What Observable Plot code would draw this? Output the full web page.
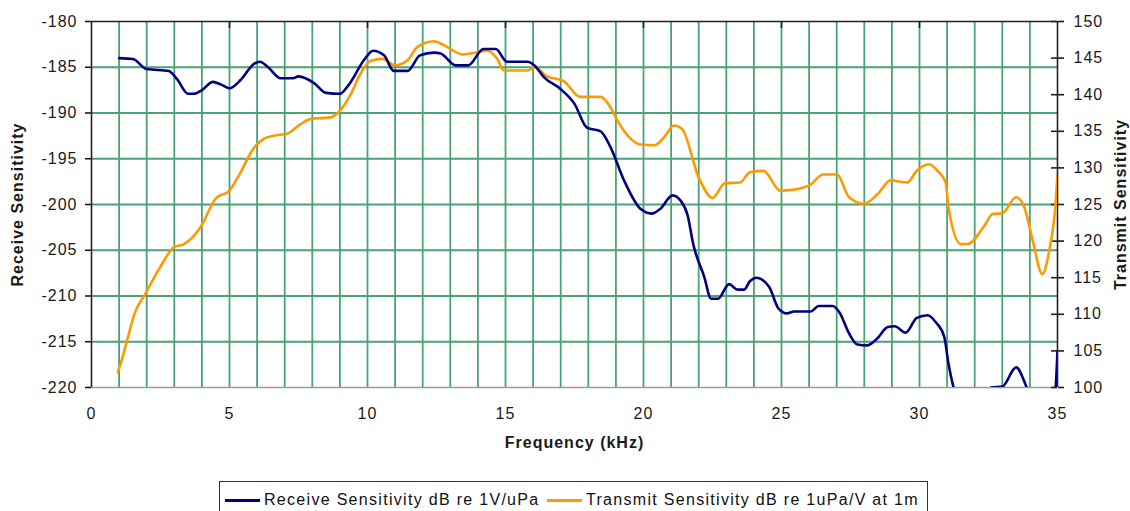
<!DOCTYPE html>
<html><head><meta charset="utf-8">
<script src="https://cdn.jsdelivr.net/npm/d3@7"></script>
<script src="https://cdn.jsdelivr.net/npm/@observablehq/plot@0.6"></script>
<style>
body{margin:0;background:#fff;}
#wrap{position:relative;width:1130px;height:511px;overflow:hidden;font-family:"Liberation Sans",Arial,sans-serif;}
#legend{position:absolute;left:219px;top:481px;width:709px;height:44px;border:1.5px solid #333;box-sizing:border-box;font-size:16px;letter-spacing:1.3px;color:#111;background:#fff;}
.item{position:absolute;top:8px;display:flex;align-items:center;white-space:nowrap;line-height:20px;}
.swatch{display:inline-block;width:35px;height:3px;margin-right:4px;}
</style></head><body>
<div id="wrap"><div id="chart"></div>
<div id="legend">
  <div class="item" style="left:5px"><span class="swatch" style="background:#000080"></span>Receive Sensitivity dB re 1V/uPa</div>
  <div class="item" style="left:327px"><span class="swatch" style="background:#FF9900"></span>Transmit Sensitivity dB re 1uPa/V at 1m</div>
</div></div>
<script>
// Receive sensitivity (left axis, dB re 1V/uPa)
const recvFreq = [1.0,1.5,2.0,2.8,3.1,3.5,3.7,4.0,4.4,4.7,5.0,5.4,5.9,6.1,6.4,6.85,7.3,7.5,8.05,8.5,9.0,9.3,9.9,10.2,10.6,10.95,11.45,11.9,12.4,12.65,13.2,13.65,14.2,14.65,15.05,15.8,16.05,16.4,17.0,17.5,17.95,18.45,18.8,19.3,19.9,20.3,20.6,21.05,21.35,21.6,21.8,22.2,22.45,22.7,23.1,23.4,23.65,23.85,24.1,24.55,24.9,25.2,25.45,26.05,26.35,26.85,27.1,27.45,27.75,28.1,28.45,28.85,29.1,29.5,29.9,30.3,30.6,30.9,31.05,31.25,31.6,32.3,32.6,33.0,33.5,33.9,34.3,34.9,35.0];
const recvDb = [-184.0,-184.1,-185.2,-185.4,-186.3,-187.9,-187.9,-187.5,-186.6,-186.9,-187.3,-186.4,-184.6,-184.4,-185.0,-186.2,-186.2,-186.0,-186.7,-187.8,-187.9,-187.0,-184.1,-183.2,-183.7,-185.4,-185.4,-183.7,-183.4,-183.5,-184.8,-184.8,-183.0,-183.0,-184.4,-184.4,-184.8,-186.1,-187.4,-189.0,-191.6,-192.0,-193.7,-197.4,-200.5,-201.0,-200.5,-199.0,-199.6,-201.2,-204.3,-207.9,-210.3,-210.3,-208.7,-209.3,-209.3,-208.4,-208.0,-209.0,-211.4,-211.9,-211.7,-211.7,-211.1,-211.1,-211.8,-214.1,-215.3,-215.4,-214.7,-213.4,-213.3,-214.0,-212.4,-212.1,-212.9,-214.5,-217.4,-220.2,-223.0,-222.0,-220.0,-219.9,-217.8,-220.1,-223.0,-221.0,-216.0];
// Transmit sensitivity (right axis, dB re 1uPa/V at 1m)
const txFreq = [0.95,1.05,1.35,1.55,1.95,2.45,3.0,3.35,3.95,4.5,5.0,5.3,5.9,6.25,6.6,7.1,7.55,7.95,8.65,8.95,9.4,9.75,10.1,10.55,11.0,11.45,11.8,12.4,12.8,13.45,13.85,14.35,14.7,14.95,15.8,16.05,16.5,17.1,17.7,18.45,18.8,19.05,19.9,20.4,20.75,21.1,21.4,22.0,22.5,22.95,23.5,23.85,24.35,24.95,25.4,26.05,26.5,27.0,27.45,28.0,28.5,28.95,29.55,29.9,30.35,30.65,30.95,31.05,31.5,31.75,32.35,32.65,33.0,33.5,33.8,34.1,34.45,34.7,34.93,35.0];
const txDb = [102.1,103.2,107.3,110.0,112.8,116.2,119.2,119.6,121.9,125.8,126.9,128.7,132.8,134.0,134.4,134.7,135.9,136.7,136.9,137.6,140.1,142.9,144.6,144.9,144.0,144.7,146.5,147.3,146.7,145.5,145.7,146.0,144.9,143.3,143.3,143.8,142.5,141.9,139.7,139.7,138.3,136.5,133.2,133.1,134.2,135.8,135.3,128.7,125.9,127.9,128.0,129.4,129.6,126.9,127.0,127.7,129.1,129.1,126.0,125.1,126.5,128.3,128.0,129.6,130.5,129.6,128.0,124.6,119.6,119.6,122.1,123.7,123.8,126.0,124.6,120.1,115.5,118.7,125.1,129.0];

const xTicks = [0,5,10,15,20,25,30,35];
const leftTicks = [-220,-215,-210,-205,-200,-195,-190,-185,-180];
const rightTicks = [100,105,110,115,120,125,130,135,140,145,150];
const gridX = d3.range(1,35);
const gridY = [-215,-210,-205,-200,-195,-190,-185];
const topTicks = [5,10,15,20,25,30];

// right-axis mapping onto left scale
const leftDomain = [-220,-180], rightDomain = [100,150];
const toLeft = v => leftDomain[0] + (v - rightDomain[0]) * (leftDomain[1]-leftDomain[0])/(rightDomain[1]-rightDomain[0]);
const fromLeft = v => rightDomain[0] + (v - leftDomain[0]) * (rightDomain[1]-rightDomain[0])/(leftDomain[1]-leftDomain[0]);

const receive = recvFreq.map((f,i)=>({f, db: recvDb[i]}));
const transmit = txFreq.map((f,i)=>({f, db: toLeft(txDb[i])}));

const W=1130, H=478, mL=91, mR=73, mT=21, mB=91;
const frameW = W-mL-mR, frameH = H-mT-mB;
const grid = "#46a572";

const chart = Plot.plot({
  width: W, height: H,
  marginLeft: mL, marginRight: mR, marginTop: mT, marginBottom: mB,
  x: {domain:[0,35]},
  y: {domain: leftDomain},
  style: {fontFamily:'"Liberation Sans", Arial, sans-serif', fontSize:"16px", letterSpacing:"1px", color:"#1a1a1a", background:"#fff", overflow:"visible"},
  marks: [
    Plot.ruleX(gridX, {x:d=>d, stroke:grid, strokeWidth:1.8}),
    Plot.ruleY(gridY, {y:d=>d, stroke:grid, strokeWidth:1.8}),
    Plot.ruleY([-220], {y:d=>d, stroke:"#9a9a9a", strokeWidth:1.6}),
    Plot.ruleY([-180], {y:d=>d, stroke:"#222", strokeWidth:1.6}),
    Plot.ruleX([0], {x:d=>d, stroke:"#222", strokeWidth:1.6}),
    Plot.ruleX([35], {x:d=>d, stroke:"#222", strokeWidth:1.6}),
    Plot.tickX(topTicks, {x:d=>d, stroke:"#222", strokeWidth:1.6, insetBottom: frameH-7}),
    Plot.tickY(rightTicks.map(toLeft), {y:d=>d, stroke:"#222", strokeWidth:1.6, insetLeft: frameW-6}),
    Plot.axisX({ticks: xTicks, tickSize:0, tickPadding:20, label:null, tickFormat: d=>String(d)}),
    Plot.axisY({anchor:"left", ticks: leftTicks, tickSize:6, tickPadding:8, label:null, strokeWidth:1.6, tickFormat: d=>String(d)}),
    Plot.axisY({anchor:"right", ticks: rightTicks.map(toLeft), tickFormat: d=>String(Math.round(fromLeft(d))), tickSize:6, tickPadding:10, label:null, strokeWidth:1.6}),
    Plot.line(transmit, {x:"f", y:"db", stroke:"#FF9900", strokeWidth:2.6, curve:"monotone-x", clip:true}),
    Plot.line(receive, {x:"f", y:"db", stroke:"#000080", strokeWidth:2.6, curve:"monotone-x", clip:true}),
    Plot.text(["Frequency (kHz)"], {text:d=>d, frameAnchor:"bottom", dy:60, fontWeight:"bold", fontSize:16, textAnchor:"middle"}),
    Plot.text(["Receive Sensitivity"], {text:d=>d, frameAnchor:"left", dx:-74, rotate:-90, fontWeight:"bold", fontSize:16, textAnchor:"middle"}),
    Plot.text(["Transmit Sensitivity"], {text:d=>d, frameAnchor:"right", dx:63, rotate:-90, fontWeight:"bold", fontSize:16, textAnchor:"middle"})
  ]
});
document.getElementById("chart").appendChild(chart);
</script>
</body></html>
